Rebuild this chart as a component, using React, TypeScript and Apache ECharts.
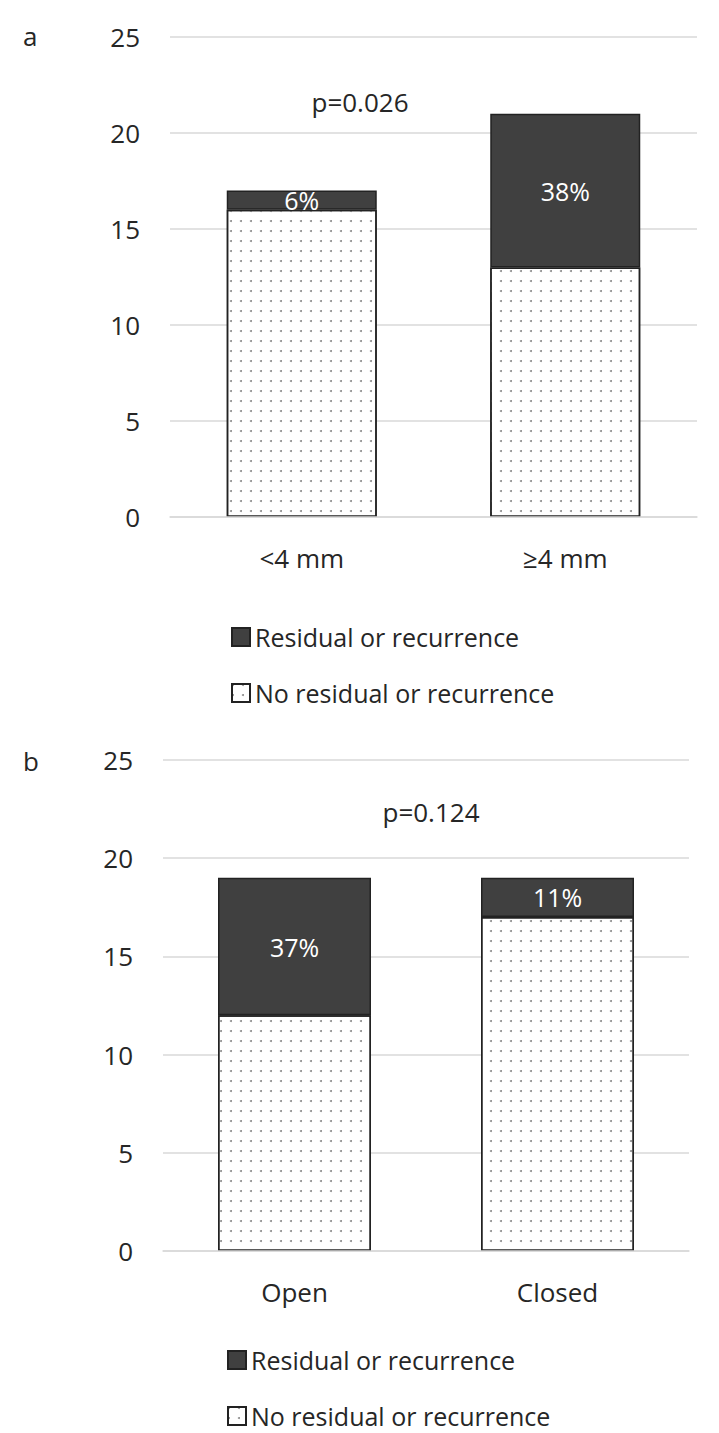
import React, { useEffect, useRef } from "react";
import * as echarts from "echarts";

const categoriesA = ["<4 mm", "≥4 mm"];
const residualA = [1, 8];
const noResidualA = [16, 13];
const pctA = ["6%", "38%"];

const categoriesB = ["Open", "Closed"];
const residualB = [7, 2];
const noResidualB = [12, 17];
const pctB = ["37%", "11%"];

const yMin = 0;
const yMax = 25;
const yInterval = 5;

const pValues = ["p=0.026", "p=0.124"];
const panelLabels = ["a", "b"];
const seriesNames = ["Residual or recurrence", "No residual or recurrence"];

const FONT = "Open Sans";
const TEXT = "#262626";
const DARK = "#404040";
const GRID = "#d9d9d9";

export default function App() {
  const ref = useRef<HTMLDivElement>(null);
  useEffect(() => {
    if (!ref.current) return;
    const chart = echarts.init(ref.current, undefined, { renderer: "svg" });
    const dotDecal = {
      symbol: "circle",
      symbolSize: 1,
      color: "#8c8c8c",
      dashArrayX: [2, 8],
      dashArrayY: [2, 8],
      rotation: 0,
    };
    const yAxisBase = (gi: number) => ({
      type: "value",
      gridIndex: gi,
      min: yMin,
      max: yMax,
      interval: yInterval,
      axisLine: { show: false },
      axisTick: { show: false },
      axisLabel: { fontFamily: FONT, fontSize: 26, color: TEXT, margin: 30 },
      splitLine: { lineStyle: { color: GRID, width: 1.5 } },
    });
    const xAxisBase = (gi: number, data: string[]) => ({
      type: "category",
      gridIndex: gi,
      data,
      z: 5,
      axisLine: { lineStyle: { color: GRID, width: 1.5 } },
      axisTick: { show: false },
      axisLabel: { fontFamily: FONT, fontSize: 26, color: TEXT, margin: 28 },
    });
    const noResSeries = (gi: number, data: number[], bw: number) => ({
      name: seriesNames[1],
      type: "bar",
      xAxisIndex: gi,
      yAxisIndex: gi,
      stack: "s" + gi,
      barWidth: bw,
      data,
      itemStyle: {
        color: "#ffffff",
        borderColor: "#222222",
        borderWidth: 1.5,
        decal: dotDecal,
      },
    });
    const resSeries = (gi: number, data: number[], pct: string[], bw: number) => ({
      name: seriesNames[0],
      type: "bar",
      xAxisIndex: gi,
      yAxisIndex: gi,
      stack: "s" + gi,
      barWidth: bw,
      data,
      itemStyle: { color: DARK, borderColor: "#222222", borderWidth: 1.5 },
      label: {
        show: true,
        position: "inside",
        fontFamily: FONT,
        fontSize: 25,
        color: "#ffffff",
        formatter: (p: any) => pct[p.dataIndex],
      },
    });
    const legendBase = (left: number, top: number, textGap: number) => ({
      orient: "vertical",
      left,
      top,
      padding: 0,
      data: seriesNames,
      icon: "rect",
      itemWidth: 18,
      itemHeight: 18,
      itemGap: 28,
      itemTextGap: textGap,
      selectedMode: false,
      textStyle: { fontFamily: FONT, fontSize: 25, color: TEXT, lineHeight: 28 },
    });
    chart.setOption({
      animation: false,
      backgroundColor: "#ffffff",
      grid: [
        { left: 170, top: 37, width: 527, height: 480 },
        { left: 163, top: 760, width: 526, height: 491 },
      ],
      xAxis: [xAxisBase(0, categoriesA), xAxisBase(1, categoriesB)],
      yAxis: [yAxisBase(0), yAxisBase(1)],
      legend: [legendBase(231, 623, 11), legendBase(227, 1346, 6)],
      series: [
        noResSeries(0, noResidualA, 150),
        resSeries(0, residualA, pctA, 150),
        noResSeries(1, noResidualB, 153),
        resSeries(1, residualB, pctB, 153),
      ],
      graphic: [
        {
          type: "text",
          left: 23,
          top: 23,
          style: { text: panelLabels[0], font: `26px "${FONT}"`, fill: TEXT },
        },
        {
          type: "text",
          left: 23,
          top: 748,
          style: { text: panelLabels[1], font: `26px "${FONT}"`, fill: TEXT },
        },
        {
          type: "text",
          x: 360,
          y: 102,
          style: {
            text: pValues[0],
            font: `26px "${FONT}"`,
            fill: TEXT,
            align: "center",
            verticalAlign: "middle",
          },
        },
        {
          type: "text",
          x: 431,
          y: 812,
          style: {
            text: pValues[1],
            font: `26px "${FONT}"`,
            fill: TEXT,
            align: "center",
            verticalAlign: "middle",
          },
        },
      ],
    });
    return () => chart.dispose();
  }, []);
  return (
    <div
      ref={ref}
      style={{ position: "absolute", left: 0, top: 0, width: 719, height: 1433 }}
    />
  );
}
